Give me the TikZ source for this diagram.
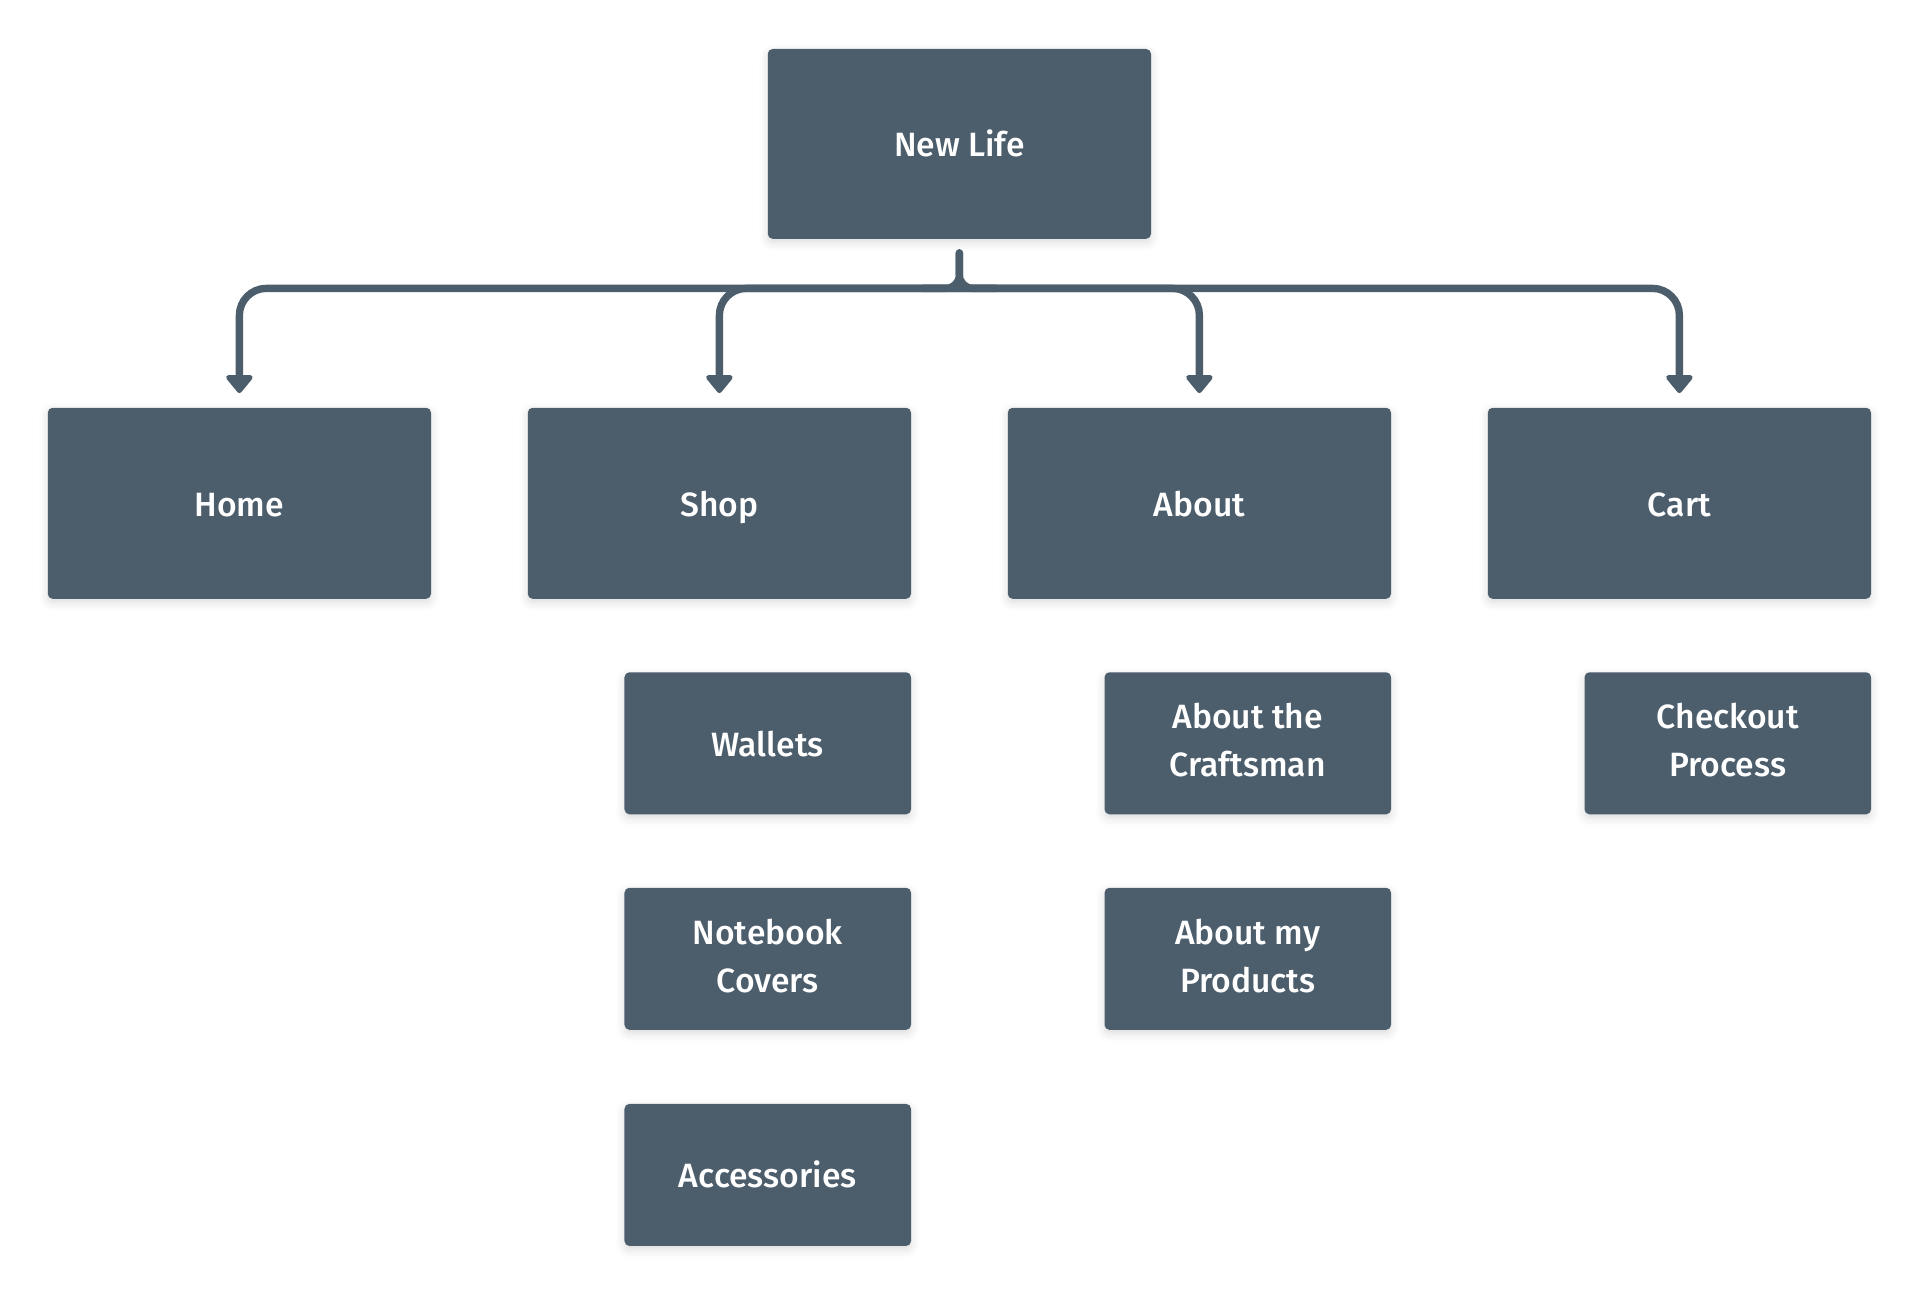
\documentclass[tikz,border=0pt]{standalone}
\usepackage{fontspec}
\setmainfont{Fira Sans}[UprightFont={* Medium}]
\usetikzlibrary{arrows.meta,shadows.blur}
\definecolor{boxc}{HTML}{4C5D6C}
\newcommand\boxstrut{\rule[-9pt]{0pt}{39pt}}
\newcommand\boxstrutB{\rule[-9pt]{0pt}{37pt}}
\newcommand\twol[2]{\raisebox{-5pt}{\begin{tabular}{@{}c@{}}#1\\#2\end{tabular}}}
\tikzset{
  box/.style={fill=boxc, rounded corners=4pt, inner sep=0pt, outer sep=0pt,
    text=white, align=center, font=\fontsize{27.5}{39}\selectfont,
    execute at begin node=\boxstrut, execute at end node=\boxstrutB,
    blur shadow={shadow xshift=0pt, shadow yshift=-3pt, shadow blur radius=7pt, shadow opacity=14}},
  bigbox/.style={box, minimum width=313pt, minimum height=156pt},
  smallbox/.style={box, minimum width=234pt, minimum height=116pt},
  conn/.style={draw=boxc, line width=6pt, line cap=round},
  arr/.style={conn, -{Triangle[width=25pt 0 0,length=16pt 0 0,round]}, shorten >=12pt, rounded corners=22pt}
}
\begin{document}
\begin{tikzpicture}[x=1pt,y=-1pt]
\useasboundingbox (0,0) rectangle (1568,1058.4);
\node[bigbox, minimum height=155pt] (nl) at (783.5,117.5) {New Life};
\node[bigbox] (home) at (195.5,411) {Home};
\node[bigbox] (shop) at (587.5,411) {Shop};
\node[bigbox] (about) at (979.5,411) {About};
\node[bigbox] (cart) at (1371.5,411) {Cart};
\node[smallbox] (wallets) at (627,607) {Wallets};
\node[smallbox] (notebook) at (627,783) {\twol{Notebook}{Covers}};
\node[smallbox] (acc) at (627,959.5) {Accessories};
\node[smallbox] (craft) at (1019,607) {\twol{About the}{Craftsman}};
\node[smallbox] (prod) at (1019,783) {\twol{About my}{Products}};
\node[smallbox] (checkout) at (1411,607) {\twol{Checkout}{Process}};
% connectors
\coordinate (stub) at ($(nl.south)+(0,11.5)$);
\coordinate (hub) at (783.5,235.5);
\draw[conn, rounded corners=11pt] (stub) -- (hub) -- ($(hub)+(-30,0)$);
\draw[conn, rounded corners=11pt] (stub) -- (hub) -- ($(hub)+(30,0)$);
\foreach \t in {home,shop,about,cart}
  \draw[arr] (hub) -| (\t.north);
\end{tikzpicture}
\end{document}
